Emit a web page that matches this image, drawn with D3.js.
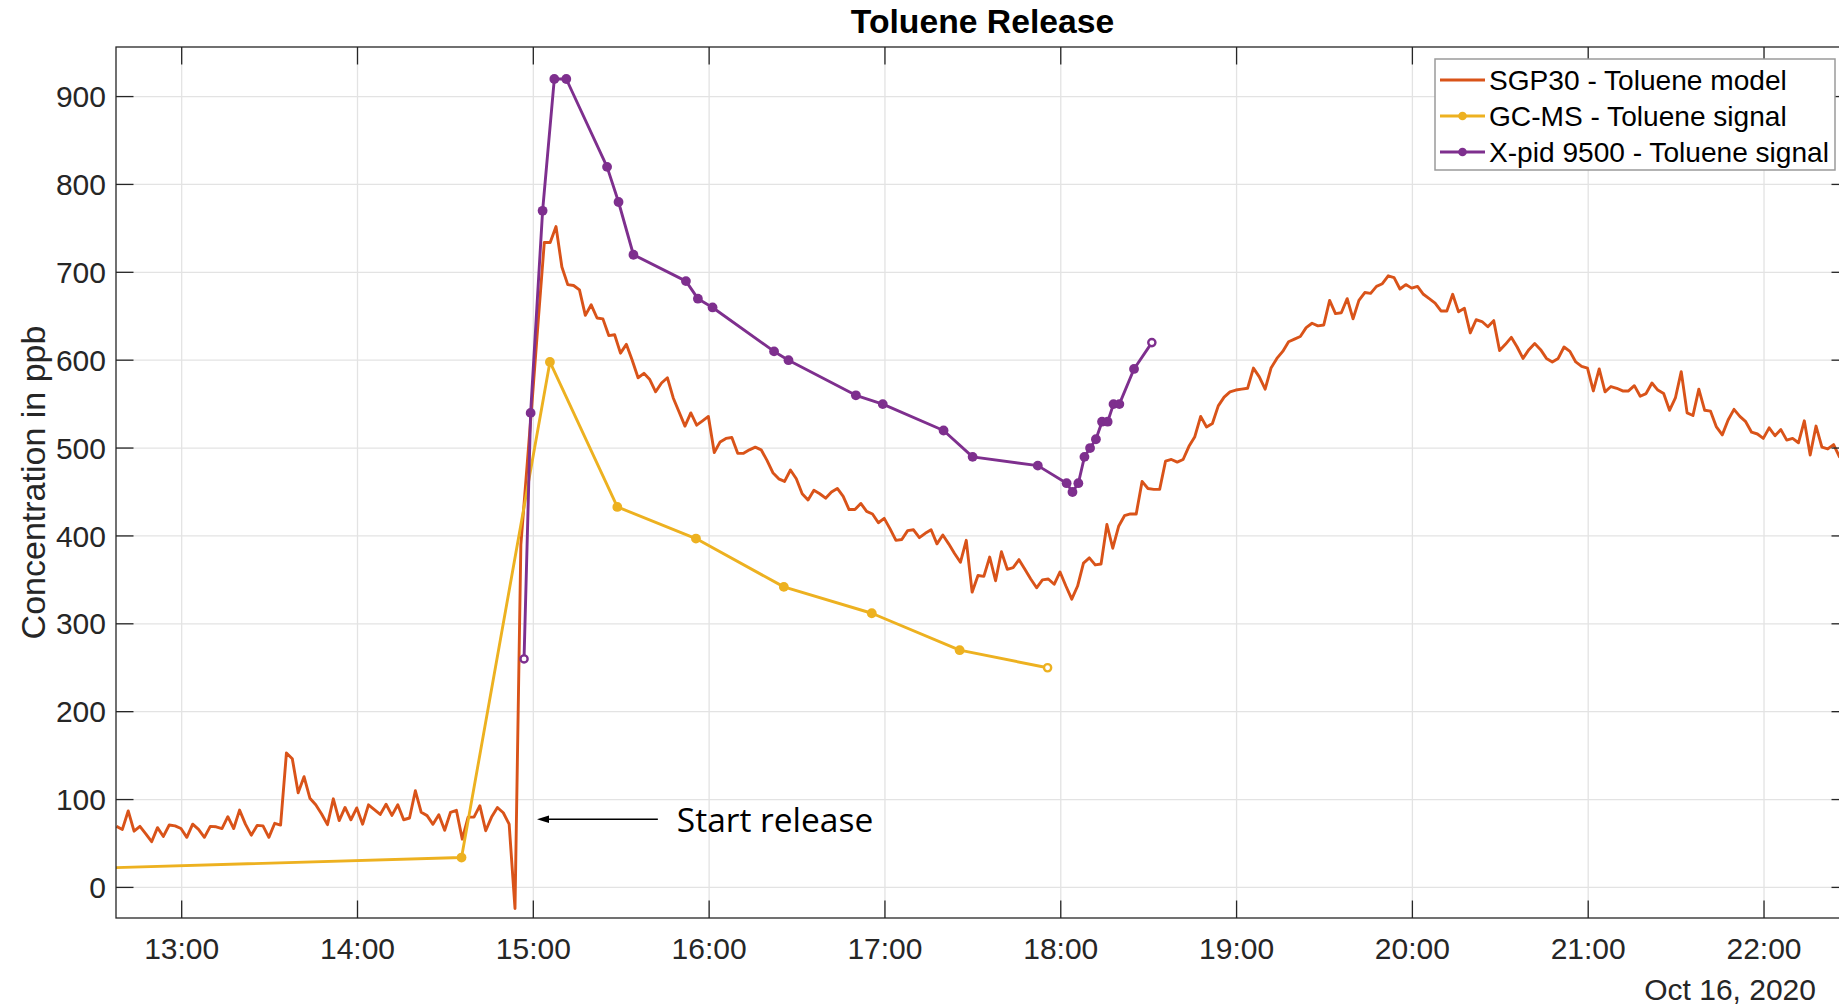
<!DOCTYPE html>
<html>
<head>
<meta charset="utf-8">
<script src="https://cdn.jsdelivr.net/npm/d3@7"></script>
<style>
  html, body { margin: 0; padding: 0; background: #fff; overflow: hidden; }
  svg { display: block; }
</style>
</head>
<body>
<svg id="chart" width="1839" height="1005"></svg>
<script>
// ---- data -------------------------------------------------------------
const day = "2020-10-16";
const chartTitle = "Toluene Release";
const yLabel = "Concentration in ppb";
const dateLabel = "Oct 16, 2020";
const noteText = "Start release";

const seriesNames = ["SGP30 - Toluene model", "GC-MS - Toluene signal", "X-pid 9500 - Toluene signal"];
const seriesColors = ["#D95319", "#EDB120", "#7E2F8E"];

// SGP30 model output, one sample every 2 minutes from 12:37:45
const sgpStart = "12:37:45";
const sgpStepMinutes = 2;
const sgpValues = [
  69.5, 66, 87, 64, 69.5, 61, 52, 68, 58, 71,
  70, 67, 57, 72, 66, 57, 69.5, 69, 67, 80.5,
  67, 88, 72, 59.5, 70.6, 70, 57, 73, 71, 153,
  146.5, 107.6, 126, 101.5, 94, 83.6, 71.4, 100.8, 76, 91,
  77, 90.5, 72, 94, 88.5, 83, 94.6, 82, 94, 77,
  79, 110, 85.5, 81.7, 71.8, 82.8, 65, 85.5, 87.8, 55,
  80, 80, 93, 64.5, 80, 91, 85, 72, -24, 390,
  475, 560, 648, 734, 734, 752, 706, 686, 685, 680,
  651, 663, 648, 647, 628, 629, 608, 618, 600, 580,
  585, 578, 564, 574, 580, 557, 541, 525, 540, 526,
  531, 536, 495, 507, 511, 512, 494, 494, 498, 501,
  498, 486, 472, 465, 462, 475, 465, 448, 441, 452,
  448, 443, 450, 454, 445, 430, 430, 437, 428, 425,
  415, 420, 408, 395, 396, 406, 407, 398, 403, 407,
  391, 401, 391, 380, 370, 395, 336, 355, 354, 376,
  349, 382, 362, 364, 373, 362, 351, 341, 350, 351,
  345, 359, 343, 328, 343, 369, 375, 367, 368, 413,
  386, 411, 423, 425, 425, 462, 454, 453, 453, 485,
  487, 484, 487, 502, 513, 536, 524, 528, 548, 558,
  564, 566, 567, 568, 591, 581, 567, 591, 602, 610,
  621, 624, 627, 637, 642, 639, 640, 668, 653, 654,
  670, 647, 668, 677, 676, 684, 687, 696, 694, 681,
  686, 682, 684, 675, 670, 665, 656, 656, 675, 655,
  659, 631, 646, 644, 638, 645, 611, 618, 626, 615,
  602, 612, 619, 612, 602, 598, 602, 615, 610, 598,
  593, 591, 565, 590, 564, 570, 568, 565, 565, 571,
  559, 562, 574, 566, 562, 543, 557, 587, 540, 537,
  567, 543, 542, 524, 515, 532, 544, 536, 530, 518,
  516, 511, 523, 514, 521, 509, 511, 506, 531, 492,
  525, 501, 499, 504, 490, 488
];

// GC-MS samples
const gcTimes = ["12:30:00", "14:35:30", "15:05:40", "15:28:40", "15:55:30",
                 "16:25:30", "16:55:30", "17:25:30", "17:55:30"];
const gcValues = [21.8, 34, 598, 433, 397, 342, 312, 270, 250];

// X-pid 9500 readings
const xpidTimes = ["14:56:50", "14:59:05", "15:03:10", "15:07:10", "15:11:15",
                   "15:25:10", "15:29:05", "15:34:10", "15:52:05", "15:56:10",
                   "16:01:10", "16:22:10", "16:27:05", "16:50:05", "16:59:15",
                   "17:20:00", "17:29:55", "17:52:10", "18:02:00", "18:04:00",
                   "18:06:00", "18:08:05", "18:10:00", "18:12:00", "18:14:05",
                   "18:16:00", "18:18:00", "18:20:00", "18:25:00", "18:31:05"];
const xpidValues = [260, 540, 770, 920, 920, 820, 780, 720, 690, 670,
                    660, 610, 600, 560, 550, 520, 490, 480, 460, 450,
                    460, 490, 500, 510, 530, 530, 550, 550, 590, 620];

const yTicks = [0, 100, 200, 300, 400, 500, 600, 700, 800, 900];
const xTickRange = ["13:00:00", "22:00:00"];
const xLimits = ["12:37:35", "22:29:00"];
const yLimits = [-34.8, 956.4];

// annotation anchor (arrow tip, arrow tail) in data coordinates
const noteArrow = { tip: ["15:01:15", 77.5], tail: ["15:42:30", 77.5] };

// ---- helpers ----------------------------------------------------------
const parseTime = d3.timeParse("%Y-%m-%d %H:%M:%S");
const at = s => parseTime(day + " " + s);

const sgp = sgpValues.map((v, i) => ({ t: d3.timeMinute.offset(at(sgpStart), i * sgpStepMinutes), v }));
const gc = gcTimes.map((s, i) => ({ t: at(s), v: gcValues[i] }));
const xpid = xpidTimes.map((s, i) => ({ t: at(s), v: xpidValues[i] }));

// ---- layout -----------------------------------------------------------
const plot = { left: 116, top: 47, right: 1849, bottom: 918 };
const fontMain = "'Liberation Sans', Arial, Helvetica, sans-serif";
const axisColor = "#262626";

const svg = d3.select("#chart");

const x = d3.scaleTime().domain(xLimits.map(at)).range([plot.left, plot.right]);
const y = d3.scaleLinear().domain(yLimits).range([plot.bottom, plot.top]);

const hourTicks = d3.timeHour.every(1).range(at(xTickRange[0]), d3.timeMinute.offset(at(xTickRange[1]), 1));

// grid
const grid = svg.append("g").attr("class", "grid");
grid.selectAll("line.gx").data(hourTicks).join("line")
  .attr("x1", d => x(d)).attr("x2", d => x(d))
  .attr("y1", plot.top).attr("y2", plot.bottom)
  .attr("stroke", "#e3e3e3").attr("stroke-width", 1.3);
grid.selectAll("line.gy").data(yTicks).join("line")
  .attr("x1", plot.left).attr("x2", plot.right)
  .attr("y1", d => y(d)).attr("y2", d => y(d))
  .attr("stroke", "#e3e3e3").attr("stroke-width", 1.3);

// clip for data
svg.append("defs").append("clipPath").attr("id", "plotClip")
  .append("rect")
  .attr("x", plot.left).attr("y", plot.top)
  .attr("width", plot.right - plot.left).attr("height", plot.bottom - plot.top);

const line = d3.line().x(d => x(d.t)).y(d => y(d.v));
const data = svg.append("g").attr("clip-path", "url(#plotClip)");

const lineWidth = 2.9;
data.append("path").datum(sgp)
  .attr("d", line).attr("fill", "none")
  .attr("stroke", seriesColors[0]).attr("stroke-width", lineWidth)
  .attr("stroke-linejoin", "round");

function markedSeries(points, color) {
  const g = data.append("g");
  g.append("path").datum(points)
    .attr("d", line).attr("fill", "none")
    .attr("stroke", color).attr("stroke-width", lineWidth)
    .attr("stroke-linejoin", "round");
  const last = points.length - 1;
  const isEnd = i => i === 0 || i === last;
  g.selectAll("circle").data(points).join("circle")
    .attr("cx", d => x(d.t)).attr("cy", d => y(d.v))
    .attr("r", (d, i) => isEnd(i) ? 3.6 : 4.9)
    .attr("fill", (d, i) => isEnd(i) ? "#fff" : color)
    .attr("stroke", color)
    .attr("stroke-width", (d, i) => isEnd(i) ? 2.4 : 0);
}
markedSeries(gc, seriesColors[1]);
markedSeries(xpid, seriesColors[2]);

// axes box and ticks
const axes = svg.append("g");
const tickLen = 17.5;
axes.append("rect")
  .attr("x", plot.left).attr("y", plot.top)
  .attr("width", plot.right - plot.left).attr("height", plot.bottom - plot.top)
  .attr("fill", "none").attr("stroke", axisColor).attr("stroke-width", 1.3);

axes.selectAll("line.tb").data(hourTicks).join("line")
  .attr("x1", d => x(d)).attr("x2", d => x(d))
  .attr("y1", plot.bottom).attr("y2", plot.bottom - tickLen)
  .attr("stroke", axisColor).attr("stroke-width", 1.3);
axes.selectAll("line.tt").data(hourTicks).join("line")
  .attr("x1", d => x(d)).attr("x2", d => x(d))
  .attr("y1", plot.top).attr("y2", plot.top + tickLen)
  .attr("stroke", axisColor).attr("stroke-width", 1.3);
axes.selectAll("line.tl").data(yTicks).join("line")
  .attr("x1", plot.left).attr("x2", plot.left + tickLen)
  .attr("y1", d => y(d)).attr("y2", d => y(d))
  .attr("stroke", axisColor).attr("stroke-width", 1.3);
axes.selectAll("line.tr").data(yTicks).join("line")
  .attr("x1", plot.right).attr("x2", plot.right - tickLen)
  .attr("y1", d => y(d)).attr("y2", d => y(d))
  .attr("stroke", axisColor).attr("stroke-width", 1.3);

// tick labels
const fmtHour = d3.timeFormat("%H:%M");
axes.selectAll("text.xl").data(hourTicks).join("text")
  .attr("x", d => x(d)).attr("y", 959)
  .attr("text-anchor", "middle")
  .attr("font-family", fontMain).attr("font-size", 30).attr("fill", axisColor)
  .text(d => fmtHour(d));
axes.selectAll("text.yl").data(yTicks).join("text")
  .attr("x", 106).attr("y", d => y(d) + 10.6)
  .attr("text-anchor", "end")
  .attr("font-family", fontMain).attr("font-size", 30).attr("fill", axisColor)
  .text(d => d);

axes.append("text")
  .attr("x", 1816).attr("y", 1000)
  .attr("text-anchor", "end")
  .attr("font-family", fontMain).attr("font-size", 30).attr("fill", axisColor)
  .text(dateLabel);

// axis label and title
svg.append("text")
  .attr("transform", `translate(45, ${(plot.top + plot.bottom) / 2}) rotate(-90)`)
  .attr("text-anchor", "middle")
  .attr("font-family", fontMain).attr("font-size", 34).attr("fill", axisColor)
  .text(yLabel);

svg.append("text")
  .attr("x", (plot.left + plot.right) / 2).attr("y", 33)
  .attr("text-anchor", "middle")
  .attr("font-family", fontMain).attr("font-size", 33.7).attr("font-weight", "bold")
  .attr("fill", "#000")
  .text(chartTitle);

// annotation arrow
const tipX = x(at(noteArrow.tip[0])), tipY = y(noteArrow.tip[1]);
const tailX = x(at(noteArrow.tail[0]));
const note = svg.append("g");
note.append("line")
  .attr("x1", tailX).attr("x2", tipX + 8).attr("y1", tipY).attr("y2", tipY)
  .attr("stroke", "#000").attr("stroke-width", 1.6);
note.append("path")
  .attr("d", `M${tipX},${tipY} L${tipX + 12},${tipY - 3.8} L${tipX + 12},${tipY + 3.8} Z`)
  .attr("fill", "#000");
note.append("text")
  .attr("x", tailX + 19).attr("y", tipY + 12.5)
  .attr("font-family", "'Open Sans', 'Noto Sans', sans-serif")
  .attr("font-size", 33.5).attr("fill", "#000")
  .text(noteText);

// legend
const legend = svg.append("g");
legend.append("rect")
  .attr("x", 1435).attr("y", 59).attr("width", 400).attr("height", 111)
  .attr("fill", "#fff").attr("stroke", "#9a9a9a").attr("stroke-width", 1.5);
const rowY = [80, 116, 152];
seriesNames.forEach((name, i) => {
  legend.append("line")
    .attr("x1", 1440).attr("x2", 1485).attr("y1", rowY[i]).attr("y2", rowY[i])
    .attr("stroke", seriesColors[i]).attr("stroke-width", lineWidth);
  if (i > 0) {
    legend.append("circle")
      .attr("cx", 1462.5).attr("cy", rowY[i]).attr("r", 4.3)
      .attr("fill", seriesColors[i]);
  }
  legend.append("text")
    .attr("x", 1489).attr("y", rowY[i] + 10)
    .attr("font-family", fontMain).attr("font-size", 28.1).attr("fill", "#000")
    .text(name);
});
</script>
</body>
</html>
